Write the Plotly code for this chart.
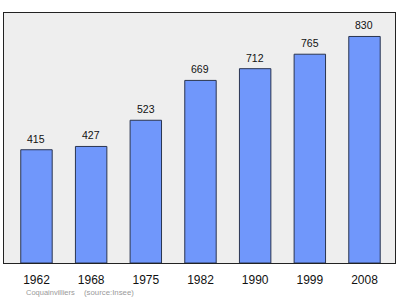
import plotly.graph_objects as go

years = ["1962", "1968", "1975", "1982", "1990", "1999", "2008"]
population = [415, 427, 523, 669, 712, 765, 830]
commune = "Coquainvilliers"
source = "(source:Insee)"

fig = go.Figure()
fig.add_trace(go.Bar(
    x=years, y=population,
    width=0.575,
    marker=dict(color="#7097fb", line=dict(color="#2a3550", width=1)),
))
for i, v in enumerate(population):
    fig.add_annotation(
        x=i, y=v, text=str(v), showarrow=False, yanchor="middle", yshift=11,
        font=dict(family="Liberation Sans", size=10.5, color="#111111"),
    )
fig.update_layout(
    width=400, height=299,
    margin=dict(l=4, r=5, t=13, b=36),
    paper_bgcolor="white",
    plot_bgcolor="#eeeeee",
    showlegend=False,
)
fig.update_xaxes(
    type="category", range=[-0.594, 6.558],
    showline=True, linecolor="#222222", linewidth=1, mirror=True,
    ticks="", showgrid=False, ticklabelstandoff=6,
    tickfont=dict(family="Liberation Sans", size=12, color="#111111"),
)
fig.update_yaxes(
    range=[0, 916], showticklabels=False, showgrid=False, zeroline=False,
    showline=True, linecolor="#222222", linewidth=1, mirror=True, ticks="",
)
fig.add_annotation(
    text=commune, xref="paper", yref="paper", x=(24-4)/391, y=-(292-263)/250,
    xanchor="left", yanchor="middle", showarrow=False,
    font=dict(family="Liberation Sans", size=7.5, color="#9a9a9a"),
)
fig.add_annotation(
    text=source, xref="paper", yref="paper", x=(82-4)/391, y=-(292-263)/250,
    xanchor="left", yanchor="middle", showarrow=False,
    font=dict(family="Liberation Sans", size=7.8, color="#9a9a9a"),
)
fig.write_html("out.html")
